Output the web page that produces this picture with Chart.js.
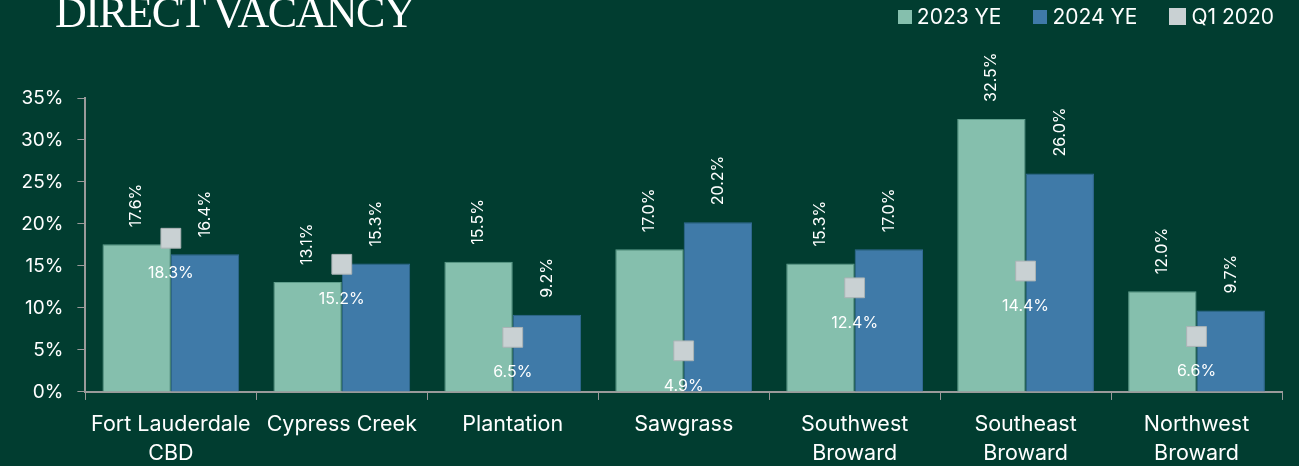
<!DOCTYPE html>
<html>
<head>
<meta charset="utf-8">
<script src="https://cdn.jsdelivr.net/npm/chart.js@4"></script>
<style>
  html, body { margin: 0; padding: 0; background: #013d30; overflow: hidden; }
  #wrap { position: relative; width: 1299px; height: 466px; overflow: hidden; }
  #title { position: absolute; left: 55px; top: -13px; color: #fff; font-family: "Liberation Serif", serif; font-size: 44px; letter-spacing: -1.5px; white-space: nowrap; }
  #legend { position: absolute; top: 4px; right: 25px; display: flex; color: #fff; font-family: Inter, "Noto Sans", sans-serif; font-size: 21px; }
  #legend span.item { display: flex; align-items: center; margin-left: 32px; }
  #legend span.box { display: inline-block; margin-right: 5px; }
  canvas { position: absolute; left: 0; top: 0; }
</style>
</head>
<body>
<div id="wrap">
  <canvas id="vacancyChart" width="1299" height="466"></canvas>
  <div id="title">DIRECT VACANCY</div>
  <div id="legend"></div>
</div>
<script>
const categories = [['Fort Lauderdale', 'CBD'], 'Cypress Creek', 'Plantation', 'Sawgrass', ['Southwest', 'Broward'], ['Southeast', 'Broward'], ['Northwest', 'Broward']];
const ye2023 = [17.6, 13.1, 15.5, 17.0, 15.3, 32.5, 12.0];
const ye2024 = [16.4, 15.3, 9.2, 20.2, 17.0, 26.0, 9.7];
const q12020 = [18.3, 15.2, 6.5, 4.9, 12.4, 14.4, 6.6];
const yTicks = [0, 5, 10, 15, 20, 25, 30, 35];

const fontFam = 'Inter, "Noto Sans", sans-serif';
const colors = { y23: '#85bfad', y24: '#3f7aa8', q1: '#c9d1d3' };

// value labels: rotated above bars, plain under the squares
const valueLabels = {
    id: 'valueLabels',
    afterDatasetsDraw(chart) {
        const ctx = chart.ctx;
        ctx.save();
        ctx.fillStyle = '#ffffff';
        ctx.font = '16px ' + fontFam;
        chart.data.datasets.forEach((ds, i) => {
            const meta = chart.getDatasetMeta(i);
            meta.data.forEach((el, j) => {
                const txt = ds.data[j].toFixed(1) + '%';
                if (ds.type === 'line') {
                    ctx.textAlign = 'center';
                    ctx.textBaseline = 'middle';
                    ctx.fillText(txt, el.x, el.y + 35);
                } else {
                    ctx.save();
                    ctx.translate(el.x, el.y - 17);
                    ctx.rotate(-Math.PI / 2);
                    ctx.textAlign = 'left';
                    ctx.textBaseline = 'middle';
                    ctx.fillText(txt, 0, 0);
                    ctx.restore();
                }
            });
        });
        ctx.restore();
    }
};

const chart = new Chart(document.getElementById('vacancyChart').getContext('2d'), {
    type: 'bar',
    data: {
        labels: categories,
        datasets: [{
            label: '2023 YE',
            data: ye2023,
            backgroundColor: colors.y23,
            borderColor: '#5f9e8c',
            borderWidth: 1,
            order: 2
        }, {
            label: '2024 YE',
            data: ye2024,
            backgroundColor: colors.y24,
            borderColor: '#336a93',
            borderWidth: 1,
            order: 2
        }, {
            type: 'line',
            label: 'Q1 2020',
            data: q12020,
            showLine: false,
            pointStyle: 'rect',
            pointRadius: 14,
            pointHoverRadius: 14,
            pointBackgroundColor: colors.q1,
            pointBorderColor: '#aab3b5',
            pointBorderWidth: 1,
            backgroundColor: colors.q1,
            borderColor: colors.q1,
            order: 1
        }]
    },
    options: {
        responsive: false,
        animation: false,
        layout: { padding: { left: 7, right: 17, top: 98, bottom: -12 } },
        datasets: { bar: { categoryPercentage: 0.8, barPercentage: 1 } },
        plugins: {
            legend: { display: false },
            tooltip: { enabled: false }
        },
        scales: {
            x: {
                grid: { display: true, offset: true, drawOnChartArea: false, color: '#9a9a9a', tickLength: 8 },
                border: { color: '#9a9a9a', width: 2 },
                ticks: { color: '#ffffff', font: { family: fontFam, size: 21.5, lineHeight: 1.35 }, maxRotation: 0, padding: 10 }
            },
            y: {
                min: 0,
                max: 35,
                afterBuildTicks(axis) { axis.ticks = yTicks.map(v => ({ value: v })); },
                grid: { display: true, drawOnChartArea: false, color: '#9a9a9a', tickLength: 8 },
                border: { color: '#9a9a9a', width: 2 },
                ticks: { color: '#ffffff', font: { family: fontFam, size: 19 }, padding: 14, callback: v => v + '%' }
            }
        }
    },
    plugins: [valueLabels]
});

// html legend
const legendEl = document.getElementById('legend');
chart.data.datasets.forEach(ds => {
    const item = document.createElement('span');
    item.className = 'item';
    const box = document.createElement('span');
    box.className = 'box';
    const sz = ds.type === 'line' ? 17 : 14;
    box.style.width = sz + 'px';
    box.style.height = sz + 'px';
    box.style.background = ds.type === 'line' ? colors.q1 : ds.backgroundColor;
    item.appendChild(box);
    item.appendChild(document.createTextNode(ds.label));
    legendEl.appendChild(item);
});
</script>
</body>
</html>
